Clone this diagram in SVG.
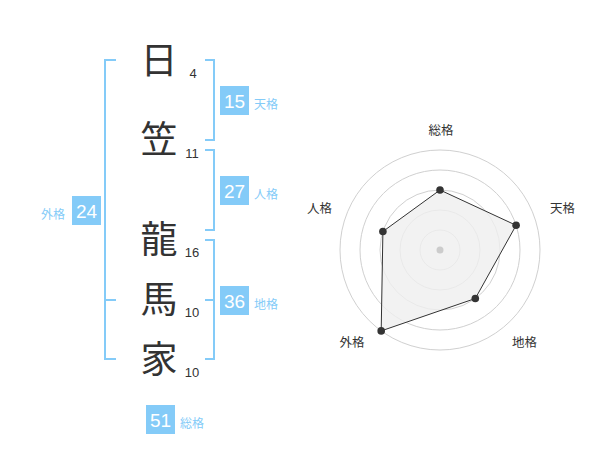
<svg xmlns="http://www.w3.org/2000/svg" width="600" height="470" viewBox="0 0 600 470">
<style>
.bg{fill:#ffffff}
.br{fill:none;stroke:#84CBF8;stroke-width:2}
.box{fill:#84CBF8}
.num{font-family:"Liberation Sans",Arial,sans-serif;font-size:19px;fill:#ffffff;text-anchor:middle}
.lab{font-family:"Noto Sans CJK JP",sans-serif;font-size:12px;fill:#84CBF8}
.ch{font-family:"Noto Sans CJK JP",sans-serif;font-size:37px;fill:#333333;text-anchor:middle}
.st{font-family:"Liberation Sans",Arial,sans-serif;font-size:13px;fill:#333333;text-anchor:middle}
.ring{fill:none;stroke:#d0d0d0;stroke-width:1}
.poly{fill:#efefef;stroke:#333333;stroke-width:1}
.dot{fill:#333333}
.rl{font-family:"Noto Sans CJK JP",sans-serif;font-size:12.5px;fill:#333333;text-anchor:middle}
</style>
<rect class="bg" x="0" y="0" width="600" height="470"/>
<g id="connectors">
<path class="br" d="M116,60 H105 V359 H116 M105,300 H116"/>
<path class="br" d="M205,60 H214 V140 H205"/>
<path class="br" d="M205,150 H214 V230 H205"/>
<path class="br" d="M205,240 H214 V359 H205 M214,300 H205"/>
</g>
<g id="char-hi"><text class="ch" x="159" y="74">日</text><text class="st" x="193" y="78">4</text></g>
<g id="char-kasa"><text class="ch" x="159" y="153">笠</text><text class="st" x="192" y="158">11</text></g>
<g id="char-ryu"><text class="ch" x="159" y="253">龍</text><text class="st" x="192" y="257">16</text></g>
<g id="char-uma"><text class="ch" x="159" y="313">馬</text><text class="st" x="192" y="317">10</text></g>
<g id="char-ie"><text class="ch" x="159" y="373">家</text><text class="st" x="192" y="377">10</text></g>
<g id="tenkaku"><rect class="box" x="220" y="86" width="29" height="29"/><text class="num" x="234.5" y="107.5">15</text><text class="lab" x="254" y="109">天格</text></g>
<g id="jinkaku"><rect class="box" x="220" y="176" width="29" height="29"/><text class="num" x="234.5" y="197.5">27</text><text class="lab" x="254" y="199">人格</text></g>
<g id="chikaku"><rect class="box" x="220" y="286" width="29" height="29"/><text class="num" x="234.5" y="307.5">36</text><text class="lab" x="254" y="309">地格</text></g>
<g id="gaikaku"><rect class="box" x="72" y="196" width="29" height="29"/><text class="num" x="86.5" y="217.5">24</text><text class="lab" x="41" y="219">外格</text></g>
<g id="soukaku"><rect class="box" x="146" y="405" width="29" height="29"/><text class="num" x="160.5" y="426.5">51</text><text class="lab" x="180" y="428">総格</text></g>
<g id="radar">
<circle class="ring" cx="440" cy="250" r="20"/>
<circle class="ring" cx="440" cy="250" r="40"/>
<circle class="ring" cx="440" cy="250" r="60"/>
<circle class="ring" cx="440" cy="250" r="80"/>
<circle class="ring" cx="440" cy="250" r="100"/>
<polygon class="poly" fill-opacity="0.8" points="440,190 516.1,225.3 475.3,298.5 381.2,330.9 382.9,231.5"/>
<circle cx="440" cy="250" r="3.5" fill="#cccccc"/>
<circle class="dot" cx="440" cy="190" r="3.8"/>
<circle class="dot" cx="516.1" cy="225.3" r="3.8"/>
<circle class="dot" cx="475.3" cy="298.5" r="3.8"/>
<circle class="dot" cx="381.2" cy="330.9" r="3.8"/>
<circle class="dot" cx="382.9" cy="231.5" r="3.8"/>
<text class="rl" x="441" y="135">総格</text>
<text class="rl" x="562.5" y="213">天格</text>
<text class="rl" x="524.5" y="347">地格</text>
<text class="rl" x="352" y="347">外格</text>
<text class="rl" x="319.5" y="213">人格</text>
</g>
</svg>
